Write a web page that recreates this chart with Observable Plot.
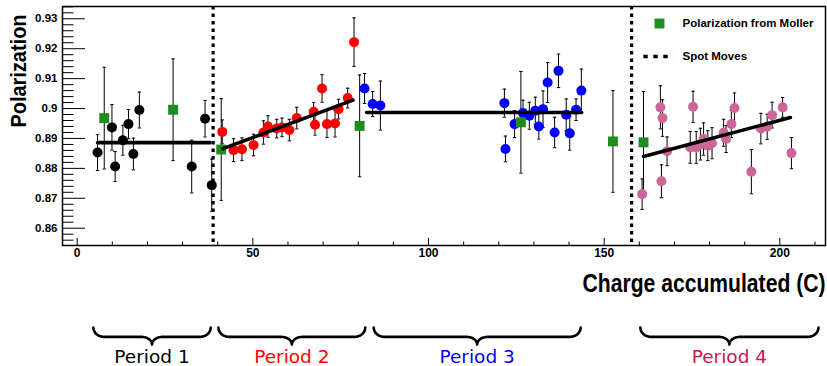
<!DOCTYPE html>
<html><head><meta charset="utf-8">
<script src="https://cdn.jsdelivr.net/npm/d3@7"></script>
<script src="https://cdn.jsdelivr.net/npm/@observablehq/plot@0.6"></script>
<style>
body{margin:0;background:#fff;}
#chart{width:827px;height:366px;overflow:hidden;background:#fff;}
#chart svg{display:block}
</style></head><body><div id="chart"></div>
<script>
// ---- data ----
const p1X = [5.8, 9.9, 10.8, 13.0, 14.6, 16.0, 17.7, 32.6, 36.4, 38.3];
const p1Y = [0.8853, 0.8937, 0.8806, 0.8894, 0.8948, 0.8848, 0.8995, 0.8806, 0.8966, 0.8744];
const p1E = [0.0060, 0.0076, 0.0050, 0.0050, 0.0049, 0.0053, 0.0060, 0.0088, 0.0061, 0.0087];

const p2X = [41.3, 44.5, 46.9, 50.2, 53.0, 54.3, 56.8, 58.3, 60.4, 62.5, 67.3, 67.7, 69.7, 71.1, 73.4, 74.4, 77.0, 78.8];
const p2Y = [0.8922, 0.8861, 0.8864, 0.8878, 0.8920, 0.8940, 0.8933, 0.8937, 0.8928, 0.8968, 0.8989, 0.8946, 0.9067, 0.8948, 0.8950, 0.8998, 0.9035, 0.9222];
const p2E = [0.0040, 0.0038, 0.0038, 0.0036, 0.0039, 0.0036, 0.0031, 0.0031, 0.0036, 0.0036, 0.0031, 0.0035, 0.0046, 0.0045, 0.0045, 0.0033, 0.0033, 0.0081];

const p3X = [81.8, 84.1, 86.3, 121.6, 121.9, 124.5, 126.9, 128.7, 130.4, 131.4, 132.6, 133.9, 135.9, 137.0, 139.2, 140.2, 142.0, 143.5];
const p3Y = [0.9067, 0.9015, 0.9010, 0.9018, 0.8865, 0.8948, 0.8985, 0.8976, 0.8993, 0.8940, 0.8998, 0.9087, 0.8920, 0.9126, 0.8979, 0.8917, 0.8996, 0.9060];
const p3E = [0.0050, 0.0042, 0.0082, 0.0047, 0.0043, 0.0045, 0.0043, 0.0045, 0.0045, 0.0042, 0.0061, 0.0067, 0.0051, 0.0056, 0.0053, 0.0056, 0.0036, 0.0072];

const p4X = [160.8, 166.0, 166.6, 166.3, 167.9, 175.3, 174.5, 176.2, 177.4, 178.3, 179.5, 180.7, 184.0, 184.7, 186.2, 187.1, 191.9, 194.6, 196.4, 197.8, 200.8, 203.3];
const p4Y = [0.8714, 0.9004, 0.8968, 0.8757, 0.8857, 0.9006, 0.8870, 0.8870, 0.8881, 0.8898, 0.8876, 0.8884, 0.8919, 0.8898, 0.8948, 0.9002, 0.8789, 0.8933, 0.8939, 0.8978, 0.9004, 0.8851];
const p4E = [0.0051, 0.0072, 0.0061, 0.0055, 0.0048, 0.0052, 0.0053, 0.0053, 0.0053, 0.0054, 0.0050, 0.0052, 0.0045, 0.0045, 0.0045, 0.0050, 0.0074, 0.0051, 0.0042, 0.0043, 0.0033, 0.0052];

const mollerX = [7.7, 27.3, 41.0, 80.4, 126.3, 152.5, 161.2];
const mollerY = [0.8968, 0.8996, 0.8863, 0.8942, 0.8954, 0.8890, 0.8887];
const mollerE = [0.0170, 0.0170, 0.0170, 0.0170, 0.0170, 0.0170, 0.0170];

const spotMoves = [38.7, 157.8];

const periodNames = ["Period 1", "Period 2", "Period 3", "Period 4"];
const periodPointColors = ["#000000", "#ff0000", "#0000ff", "#cc6699"];
const periodLabelColors = ["#000000", "#ff0000", "#0000ff", "#cc1450"];
const fitX0 = [5.8, 41.5, 82.4, 161.2];
const fitX1 = [37.8, 78.5, 143.6, 203.0];
const fitY0 = [0.8886, 0.8866, 0.8987, 0.8840];
const fitY1 = [0.8886, 0.9028, 0.8987, 0.8970];
const braceStart = [4.6, 40.2, 84.4, 160.3];
const braceEnd = [38.0, 82.0, 143.3, 211.0];

const legendLabels = ["Polarization from Moller", "Spot Moves"];
const yTitle = "Polarization";
const xTitle = "Charge accumulated (C)";
const xMajor = [0, 50, 100, 150, 200];
const yMajor = [0.86, 0.87, 0.88, 0.89, 0.90, 0.91, 0.92, 0.93];

// ---- build ----
const green = "#1e8c1e";
const rows = (xs, ys, es) => xs.map((x, i) => ({x, y: ys[i], e: es[i]}));
const periods = [rows(p1X, p1Y, p1E), rows(p2X, p2Y, p2E), rows(p3X, p3Y, p3E), rows(p4X, p4Y, p4E)];
const moller = rows(mollerX, mollerY, mollerE);
const allErr = periods.flat().concat(moller);
const fits = periodNames.flatMap((p, i) => [{p, x: fitX0[i], y: fitY0[i]}, {p, x: fitX1[i], y: fitY1[i]}]);

const xMinor = d3.range(0, 211, 10).filter(v => v % 50 !== 0);
const yMinor = d3.range(856, 935, 2).map(v => v / 1000).filter(v => Math.round(v * 1000) % 10 !== 0);

const capSym = {draw(ctx) { ctx.moveTo(-1.7, 0); ctx.lineTo(1.7, 0); }};
const dashSym = {draw(ctx) { for (const c of [-10, 0, 10]) ctx.rect(c - 2.2, -1.7, 4.4, 3.4); }};

const xDomain = [-4.18, 213.0];
const yDomain = [0.85422, 0.93411];
const font = "'Liberation Sans', Arial, Helvetica, sans-serif";

const main = Plot.plot({
  width: 827, height: 300,
  marginLeft: 62, marginRight: 2, marginTop: 6, marginBottom: 55,
  x: {domain: xDomain}, y: {domain: yDomain},
  style: {fontFamily: font, background: "white", color: "black", overflow: "visible"},
  marks: [
    Plot.axisY({ticks: yMinor, tickSize: 11.5, dx: 11.5, fill: "none", label: null}),
    Plot.axisY({ticks: yMajor, tickSize: 23, dx: 23, fill: "none", label: null}),
    Plot.axisY({ticks: yMajor, tickSize: 0, tickPadding: 5, tickFormat: d3.format(".2~f"), fontWeight: "bold", fontSize: 11.5, label: null}),
    Plot.axisX({ticks: xMinor, tickSize: 3.5, dy: -3.5, fill: "none", label: null}),
    Plot.axisX({ticks: xMajor, tickSize: 7, dy: -7, fill: "none", label: null}),
    Plot.axisX({ticks: xMajor, tickSize: 0, tickPadding: 3, fontWeight: "bold", fontSize: 12, label: null}),
    Plot.ruleX(allErr, {x: "x", y1: d => d.y - d.e, y2: d => d.y + d.e, stroke: "black", strokeWidth: 1}),
    Plot.dot(allErr, {x: "x", y: d => d.y - d.e, symbol: capSym, stroke: "black", fill: "none", strokeWidth: 1}),
    Plot.dot(allErr, {x: "x", y: d => d.y + d.e, symbol: capSym, stroke: "black", fill: "none", strokeWidth: 1}),
    ...periods.map((rs, i) => Plot.dot(rs, {x: "x", y: "y", r: 5, fill: periodPointColors[i], stroke: "none"})),
    Plot.dot(moller, {x: "x", y: "y", symbol: "square", r: 5.6, fill: green, stroke: "none"}),
    Plot.line(fits, {x: "x", y: "y", z: "p", stroke: "black", strokeWidth: 3.6}),
    Plot.ruleX(spotMoves, {stroke: "black", strokeWidth: 3.2, strokeDasharray: "3.5,4"}),
    Plot.frame({stroke: "black", strokeWidth: 1.5}),
    // legend
    Plot.dot([legendLabels[0]], {frameAnchor: "top-right", dx: -166, dy: 17, symbol: "square", r: 5.6, fill: green, stroke: "none"}),
    Plot.dot([legendLabels[1]], {frameAnchor: "top-right", dx: -170, dy: 50, symbol: dashSym, fill: "black", stroke: "none"}),
    Plot.text([legendLabels[0]], {frameAnchor: "top-right", dx: -143, dy: 17, textAnchor: "start", lineAnchor: "middle", fontWeight: "bold", fontSize: 11.5, fill: "black"}),
    Plot.text([legendLabels[1]], {frameAnchor: "top-right", dx: -143, dy: 50, textAnchor: "start", lineAnchor: "middle", fontWeight: "bold", fontSize: 11.5, fill: "black"}),
    Plot.text([yTitle], {frameAnchor: "top-left", dx: -44, dy: 8, rotate: -90, textAnchor: "end", lineAnchor: "middle", fontSize: 22, fontWeight: "bold", fill: "black"}),
    Plot.text([xTitle], {frameAnchor: "bottom-right", dy: 38, textAnchor: "end", lineAnchor: "middle", fontSize: 26, fontWeight: "bold", fill: "black"})
  ]
});

function bracePts(x0, x1, p) {
  const m = (x0 + x1) / 2, r = 3, f = 0.55, N = 10, left = [];
  for (let i = 0; i <= N; i++) { const t = i / N * Math.PI / 2; left.push({p, x: x0 + r * (1 - Math.cos(t)), y: f * Math.sin(t)}); }
  for (let i = 0; i <= N; i++) { const t = i / N * Math.PI / 2; left.push({p, x: m - r + r * Math.sin(t), y: f + (1 - f) * (1 - Math.cos(t))}); }
  const right = left.slice(0, -1).reverse().map(d => ({p, x: 2 * m - d.x, y: d.y}));
  return left.concat(right);
}
const braceData = periodNames.flatMap((p, i) => bracePts(braceStart[i], braceEnd[i], p));
const labelData = periodNames.map((p, i) => ({p, x: (braceStart[i] + braceEnd[i]) / 2, c: periodLabelColors[i]}));

const bottom = Plot.plot({
  width: 827, height: 66,
  marginLeft: 62, marginRight: 2, marginTop: 27, marginBottom: 22,
  x: {domain: xDomain, axis: null}, y: {domain: [0, 1], reverse: true, axis: null},
  style: {background: "white", overflow: "visible"},
  marks: [
    Plot.line(braceData, {x: "x", y: "y", z: "p", stroke: "black", strokeWidth: 2.6, strokeLinecap: "round"}),
    Plot.text(labelData, {x: "x", frameAnchor: "bottom", dy: 13, text: "p", fill: d => d.c, fontSize: 18.5, fontFamily: "'DejaVu Sans', sans-serif", lineAnchor: "middle"})
  ]
});

const root = document.getElementById("chart");
root.appendChild(main);
root.appendChild(bottom);

// condensed axis titles
d3.select(main).selectAll("text").each(function() {
  const t = this.textContent;
  if (t === xTitle) { this.setAttribute("textLength", 243); this.setAttribute("lengthAdjust", "spacingAndGlyphs"); }
  if (t === yTitle) { this.setAttribute("textLength", 113); this.setAttribute("lengthAdjust", "spacingAndGlyphs"); }
});
</script>
</body></html>
